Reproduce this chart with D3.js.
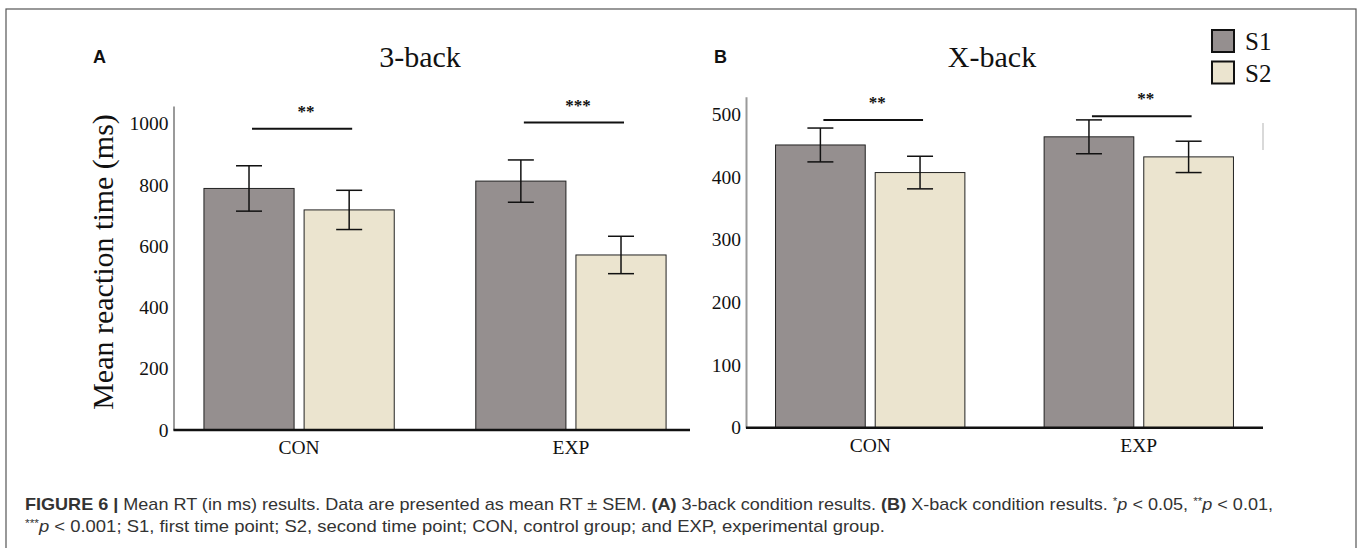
<!DOCTYPE html>
<html>
<head>
<meta charset="utf-8">
<script src="https://cdn.jsdelivr.net/npm/d3@7"></script>
<style>
  body { margin: 0; background: #fff; }
  svg { display: block; }
  .serif { font-family: "Liberation Serif", "Times New Roman", serif; fill: #111; }
  .sans { font-family: "Liberation Sans", Arial, sans-serif; }
  .caption { font-family: "Liberation Sans Narrow", "Liberation Sans", Arial, sans-serif; fill: #333; font-size: 17px; }
</style>
</head>
<body>
<svg id="chart" width="1358" height="548"></svg>
<script>
// Data
const groups = ['CON', 'EXP']
const sessions = ['S1', 'S2']

// 3-back (panel A)
const threeBackS1 = [788, 812]
const threeBackS2 = [718, 571]
const threeBackSemS1 = [74, 69]
const threeBackSemS2 = [64, 61]
const threeBackTicks = [0, 200, 400, 600, 800, 1000]
const threeBackSigLabels = ['**', '***']
const threeBackSigLevel = [983, 1003]

// X-back (panel B)
const xBackS1 = [451, 464]
const xBackS2 = [407, 432]
const xBackSemS1 = [27, 27]
const xBackSemS2 = [26, 25]
const xBackTicks = [0, 100, 200, 300, 400, 500]
const xBackSigLabels = ['**', '**']
const xBackSigLevel = [491, 497]

const SESSION_COLORS = { S1: '#958f8f', S2: '#ebe4cf' }

let svg = d3.select('#chart')

// outer figure frame
svg.append('rect')
  .attr('x', 6).attr('y', 9)
  .attr('width', 1350).attr('height', 560)
  .attr('fill', 'none').attr('stroke', '#555').attr('stroke-width', 1.2)

let drawPanel = (p) => {
  let g = svg.append('g')

  let x = d3.scaleBand().domain(groups)
    .range([p.left, p.right]).paddingInner(p.padInner).paddingOuter(p.padOuter).align(p.align)
  let xs = d3.scaleBand().domain(sessions).range([0, x.bandwidth()]).paddingInner(0.1)
  let y = d3.scaleLinear().domain([0, p.yMax]).range([p.bottom, p.top])

  // rows: one per bar
  let rows = []
  groups.forEach((grp, i) => {
    rows.push({ grp, ses: 'S1', mean: p.s1[i], sem: p.sem1[i] })
    rows.push({ grp, ses: 'S2', mean: p.s2[i], sem: p.sem2[i] })
  })

  // y axis: thin grey line, no ticks
  let yAxis = g.append('g')
    .attr('transform', `translate(${p.left},0)`)
    .call(d3.axisLeft(y).tickValues(p.ticks).tickSize(0).tickPadding(5).tickFormat(d3.format('d')))
  yAxis.select('.domain').attr('stroke', '#9a9a9a').attr('stroke-width', 2)
  yAxis.selectAll('text')
    .attr('class', 'serif').attr('font-size', 19.5).attr('fill', '#111')

  // bars
  g.selectAll('rect.bar')
    .data(rows)
    .enter()
    .append('rect')
    .attr('class', 'bar')
    .attr('x', d => x(d.grp) + xs(d.ses))
    .attr('y', d => y(d.mean))
    .attr('width', xs.bandwidth())
    .attr('height', d => y(0) - y(d.mean))
    .attr('fill', d => SESSION_COLORS[d.ses])
    .attr('stroke', '#222')
    .attr('stroke-width', 1)

  // error bars
  let err = g.selectAll('g.err')
    .data(rows)
    .enter()
    .append('g')
    .attr('transform', d => `translate(${x(d.grp) + xs(d.ses) + xs.bandwidth() / 2},0)`)
  err.append('line')
    .attr('y1', d => y(d.mean + d.sem)).attr('y2', d => y(d.mean - d.sem))
    .attr('stroke', '#111').attr('stroke-width', 1.5)
  err.selectAll('line.cap')
    .data(d => [d.mean + d.sem, d.mean - d.sem])
    .enter()
    .append('line')
    .attr('x1', -13).attr('x2', 13)
    .attr('y1', v => y(v)).attr('y2', v => y(v))
    .attr('stroke', '#111').attr('stroke-width', 1.5)

  // x axis: thick baseline plus group labels
  g.append('line')
    .attr('x1', p.left).attr('x2', p.axisEnd)
    .attr('y1', y(0)).attr('y2', y(0))
    .attr('stroke', '#111').attr('stroke-width', 2.6)
  g.selectAll('text.grp')
    .data(groups)
    .enter()
    .append('text')
    .attr('class', 'serif')
    .attr('x', d => x(d) + x.bandwidth() / 2)
    .attr('y', y(0) + 24)
    .attr('text-anchor', 'middle')
    .attr('font-size', 19.5)
    .text(d => d)

  // significance brackets
  let sig = g.selectAll('g.sig')
    .data(groups.map((grp, i) => ({ grp, label: p.sigLabels[i], level: p.sigLevel[i] })))
    .enter()
    .append('g')
  sig.append('line')
    .attr('x1', d => x(d.grp) + xs('S1') + xs.bandwidth() / 2 + 3)
    .attr('x2', d => x(d.grp) + xs('S2') + xs.bandwidth() / 2 + 3)
    .attr('y1', d => y(d.level)).attr('y2', d => y(d.level))
    .attr('stroke', '#111').attr('stroke-width', 2)
  sig.append('text')
    .attr('class', 'serif')
    .attr('x', d => x(d.grp) + x.bandwidth() / 2 + 7)
    .attr('y', d => y(d.level) - 12)
    .attr('text-anchor', 'middle')
    .attr('font-size', 17)
    .attr('font-weight', 'bold')
    .text(d => d.label)

  // title and panel letter
  g.append('text')
    .attr('class', 'serif')
    .attr('x', p.titleX).attr('y', 67)
    .attr('text-anchor', 'middle')
    .attr('font-size', 30)
    .text(p.title)
  g.append('text')
    .attr('class', 'sans')
    .attr('x', p.letterX).attr('y', 63)
    .attr('font-size', 18).attr('font-weight', 'bold').attr('fill', '#111')
    .text(p.letter)
}

drawPanel({
  letter: 'A', letterX: 93, title: '3-back', titleX: 420,
  left: 173.5, right: 690, axisEnd: 690, padInner: 0.3, padOuter: 0.1, align: 0.56,
  top: 106, bottom: 430, yMax: 1057,
  s1: threeBackS1, s2: threeBackS2, sem1: threeBackSemS1, sem2: threeBackSemS2,
  ticks: threeBackTicks, sigLabels: threeBackSigLabels, sigLevel: threeBackSigLevel
})

drawPanel({
  letter: 'B', letterX: 714, title: 'X-back', titleX: 992,
  left: 746, right: 1263, axisEnd: 1263, padInner: 0.295, padOuter: 0.11, align: 0.5,
  top: 96.7, bottom: 427.7, yMax: 528,
  s1: xBackS1, s2: xBackS2, sem1: xBackSemS1, sem2: xBackSemS2,
  ticks: xBackTicks, sigLabels: xBackSigLabels, sigLevel: xBackSigLevel
})

// y label of panel A
svg.append('text')
  .attr('class', 'serif')
  .attr('transform', 'translate(113,262) rotate(-90)')
  .attr('text-anchor', 'middle')
  .attr('font-size', 30)
  .text('Mean reaction time (ms)')

// faint mark at the right end of panel B
svg.append('line')
  .attr('x1', 1263).attr('x2', 1263).attr('y1', 123).attr('y2', 150)
  .attr('stroke', '#ccc').attr('stroke-width', 1.5)

// legend
let legend = svg.append('g')
  .selectAll('g')
  .data(sessions)
  .enter()
  .append('g')
  .attr('transform', (d, i) => `translate(1212, ${30 + i * 31.5})`)
legend.append('rect')
  .attr('width', 22).attr('height', 22)
  .attr('fill', d => SESSION_COLORS[d])
  .attr('stroke', '#111').attr('stroke-width', 2)
legend.append('text')
  .attr('class', 'serif')
  .attr('x', 33).attr('y', 20)
  .attr('font-size', 25)
  .text(d => d)

// caption
let cap1 = svg.append('text').attr('class', 'caption')
  .attr('x', 25).attr('y', 510)
  .attr('textLength', 1248).attr('lengthAdjust', 'spacingAndGlyphs')
cap1.append('tspan').attr('font-weight', 'bold').text('FIGURE 6 | ')
cap1.append('tspan').text('Mean RT (in ms) results. Data are presented as mean RT \u00b1 SEM. ')
cap1.append('tspan').attr('font-weight', 'bold').text('(A)')
cap1.append('tspan').text(' 3-back condition results. ')
cap1.append('tspan').attr('font-weight', 'bold').text('(B)')
cap1.append('tspan').text(' X-back condition results. ')
cap1.append('tspan').attr('font-size', 11).attr('dy', -5).text('*')
cap1.append('tspan').attr('font-style', 'italic').attr('dy', 5).text('p')
cap1.append('tspan').text(' < 0.05, ')
cap1.append('tspan').attr('font-size', 11).attr('dy', -5).text('**')
cap1.append('tspan').attr('font-style', 'italic').attr('dy', 5).text('p')
cap1.append('tspan').text(' < 0.01,')

let cap2 = svg.append('text').attr('class', 'caption')
  .attr('x', 25).attr('y', 532)
  .attr('textLength', 860).attr('lengthAdjust', 'spacingAndGlyphs')
cap2.append('tspan').attr('font-size', 11).attr('dy', -5).text('***')
cap2.append('tspan').attr('font-style', 'italic').attr('dy', 5).text('p')
cap2.append('tspan').text(' < 0.001; S1, first time point; S2, second time point; CON, control group; and EXP, experimental group.')
</script>
</body>
</html>
